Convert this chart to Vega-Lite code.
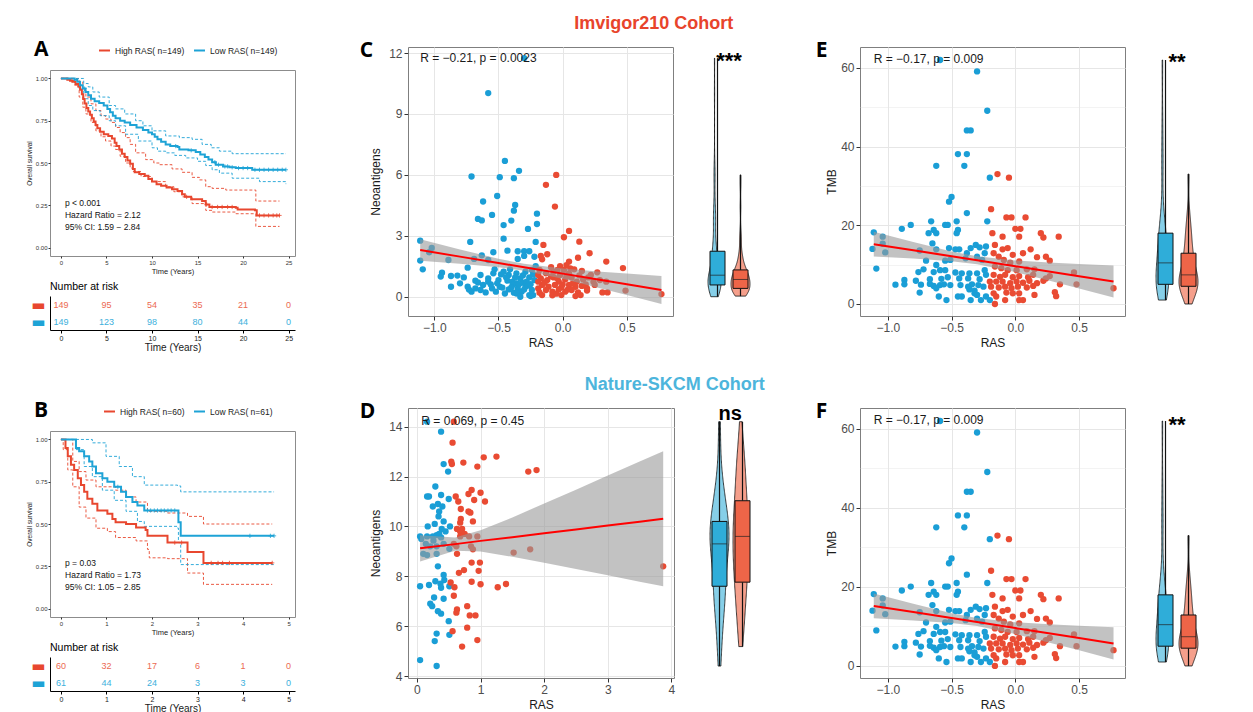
{
"$schema": "https://vega.github.io/schema/vega-lite/v6.json",
"background": "white",
"padding": {"left": 25, "top": 15, "right": 5, "bottom": 0},
"config": {"font": "Liberation Sans", "view": {"stroke": null}, "axis": {"labelColor": "#4D4D4D", "titleColor": "#1A1A1A", "titleFontWeight": "normal", "domain": false, "tickColor": "#333333", "gridColor": "#E6E6E6"}},
"datasets": {
"cPts": [
{"RAS":-0.30,"Neo":11.75,"grp":"Low"},{"RAS":-0.58,"Neo":10.03,"grp":"Low"},{"RAS":-0.45,"Neo":6.69,"grp":"Low"},{"RAS":-0.34,"Neo":6.2,"grp":"Low"},{"RAS":-0.71,"Neo":5.92,"grp":"Low"},{"RAS":-0.49,"Neo":5.89,"grp":"Low"},{"RAS":-0.38,"Neo":5.84,"grp":"Low"},{"RAS":-0.51,"Neo":4.96,"grp":"Low"},{"RAS":-0.62,"Neo":4.69,"grp":"Low"},{"RAS":-0.37,"Neo":4.52,"grp":"Low"},{"RAS":-0.38,"Neo":4.24,"grp":"Low"},{"RAS":-0.55,"Neo":4.03,"grp":"Low"},{"RAS":-0.20,"Neo":4.09,"grp":"Low"},{"RAS":-0.66,"Neo":3.83,"grp":"Low"},{"RAS":-0.63,"Neo":3.76,"grp":"Low"},{"RAS":-0.40,"Neo":3.75,"grp":"Low"},{"RAS":-0.46,"Neo":3.53,"grp":"Low"},{"RAS":-0.20,"Neo":3.58,"grp":"Low"},{"RAS":-0.27,"Neo":3.34,"grp":"Low"},{"RAS":-0.46,"Neo":2.86,"grp":"Low"},{"RAS":-1.11,"Neo":2.76,"grp":"Low"},{"RAS":-0.72,"Neo":2.70,"grp":"Low"},{"RAS":-0.21,"Neo":2.70,"grp":"Low"},{"RAS":-1.02,"Neo":2.40,"grp":"Low"},{"RAS":-1.04,"Neo":2.19,"grp":"Low"},{"RAS":-0.43,"Neo":2.27,"grp":"Low"},{"RAS":-0.35,"Neo":2.24,"grp":"Low"},{"RAS":-0.30,"Neo":2.24,"grp":"Low"},{"RAS":-0.26,"Neo":2.24,"grp":"Low"},{"RAS":-0.54,"Neo":2.19,"grp":"Low"},{"RAS":-0.63,"Neo":2.04,"grp":"Low"},{"RAS":-0.30,"Neo":2.01,"grp":"Low"},{"RAS":-0.22,"Neo":1.97,"grp":"Low"},{"RAS":-0.35,"Neo":1.86,"grp":"Low"},{"RAS":-0.69,"Neo":1.86,"grp":"Low"},{"RAS":-1.11,"Neo":1.78,"grp":"Low"},{"RAS":-0.89,"Neo":1.81,"grp":"Low"},{"RAS":-0.58,"Neo":1.81,"grp":"Low"},{"RAS":-1.09,"Neo":1.35,"grp":"Low"},{"RAS":-0.74,"Neo":1.43,"grp":"Low"},{"RAS":-0.53,"Neo":1.35,"grp":"Low"},{"RAS":-0.94,"Neo":1.18,"grp":"Low"},{"RAS":-0.87,"Neo":1.02,"grp":"Low"},{"RAS":-0.82,"Neo":1.04,"grp":"Low"},{"RAS":-0.77,"Neo":0.95,"grp":"Low"},{"RAS":-0.87,"Neo":0.49,"grp":"Low"},{"RAS":-0.74,"Neo":0.49,"grp":"Low"},{"RAS":-0.68,"Neo":0.79,"grp":"Low"},{"RAS":-0.64,"Neo":1.07,"grp":"Low"},{"RAS":-0.58,"Neo":0.90,"grp":"Low"},{"RAS":-0.54,"Neo":1.15,"grp":"Low"},{"RAS":-0.50,"Neo":0.82,"grp":"Low"},{"RAS":-0.46,"Neo":1.23,"grp":"Low"},{"RAS":-0.42,"Neo":1.07,"grp":"Low"},{"RAS":-0.39,"Neo":0.74,"grp":"Low"},{"RAS":-0.36,"Neo":1.15,"grp":"Low"},{"RAS":-0.33,"Neo":0.90,"grp":"Low"},{"RAS":-0.29,"Neo":1.23,"grp":"Low"},{"RAS":-0.26,"Neo":0.95,"grp":"Low"},{"RAS":-0.24,"Neo":1.32,"grp":"Low"},{"RAS":-0.22,"Neo":0.82,"grp":"Low"},{"RAS":-0.21,"Neo":1.51,"grp":"Low"},{"RAS":-0.71,"Neo":0.25,"grp":"Low"},{"RAS":-0.64,"Neo":0.33,"grp":"Low"},{"RAS":-0.60,"Neo":0.21,"grp":"Low"},{"RAS":-0.55,"Neo":0.41,"grp":"Low"},{"RAS":-0.49,"Neo":0.49,"grp":"Low"},{"RAS":-0.45,"Neo":0.16,"grp":"Low"},{"RAS":-0.42,"Neo":0.36,"grp":"Low"},{"RAS":-0.38,"Neo":0.20,"grp":"Low"},{"RAS":-0.35,"Neo":0.41,"grp":"Low"},{"RAS":-0.32,"Neo":0.25,"grp":"Low"},{"RAS":-0.29,"Neo":0.49,"grp":"Low"},{"RAS":-0.26,"Neo":0.08,"grp":"Low"},{"RAS":-0.24,"Neo":0.33,"grp":"Low"},{"RAS":-0.23,"Neo":0.08,"grp":"Low"},{"RAS":-0.36,"Neo":0.66,"grp":"Low"},{"RAS":-0.31,"Neo":0.69,"grp":"Low"},{"RAS":-0.28,"Neo":0.74,"grp":"Low"},{"RAS":-0.39,"Neo":0.58,"grp":"Low"},{"RAS":-0.51,"Neo":0.66,"grp":"Low"},{"RAS":-0.62,"Neo":0.58,"grp":"Low"},{"RAS":-0.80,"Neo":0.66,"grp":"Low"},{"RAS":-0.68,"Neo":0.41,"grp":"Low"},{"RAS":-0.95,"Neo":0.99,"grp":"Low"},{"RAS":-0.58,"Neo":0.74,"grp":"Low"},{"RAS":-0.43,"Neo":0.79,"grp":"Low"},{"RAS":-0.36,"Neo":0.16,"grp":"Low"},{"RAS":-0.33,"Neo":0.0,"grp":"Low"},{"RAS":-0.25,"Neo":0.03,"grp":"Low"},{"RAS":-0.47,"Neo":0.45,"grp":"Low"},{"RAS":-0.44,"Neo":0.95,"grp":"Low"},{"RAS":-0.41,"Neo":1.35,"grp":"Low"},{"RAS":-0.37,"Neo":0.95,"grp":"Low"},{"RAS":-0.34,"Neo":0.62,"grp":"Low"},{"RAS":-0.31,"Neo":1.05,"grp":"Low"},{"RAS":-0.27,"Neo":0.55,"grp":"Low"},{"RAS":-0.23,"Neo":1.1,"grp":"Low"},{"RAS":-0.48,"Neo":1.1,"grp":"Low"},{"RAS":-0.56,"Neo":0.6,"grp":"Low"},{"RAS":-0.66,"Neo":0.7,"grp":"Low"},{"RAS":-0.73,"Neo":0.35,"grp":"Low"},{"RAS":-0.30,"Neo":0.35,"grp":"Low"},{"RAS":-0.25,"Neo":0.62,"grp":"Low"},{"RAS":-0.40,"Neo":0.45,"grp":"Low"},{"RAS":-0.52,"Neo":0.25,"grp":"Low"},
{"RAS":-0.05,"Neo":6.0,"grp":"High"},{"RAS":-0.13,"Neo":5.51,"grp":"High"},{"RAS":-0.06,"Neo":4.44,"grp":"High"},{"RAS":0.05,"Neo":3.24,"grp":"High"},{"RAS":0.01,"Neo":2.93,"grp":"High"},{"RAS":-0.15,"Neo":2.55,"grp":"High"},{"RAS":0.13,"Neo":2.71,"grp":"High"},{"RAS":-0.17,"Neo":2.01,"grp":"High"},{"RAS":-0.12,"Neo":2.09,"grp":"High"},{"RAS":0.21,"Neo":2.14,"grp":"High"},{"RAS":-0.16,"Neo":1.84,"grp":"High"},{"RAS":0.12,"Neo":1.92,"grp":"High"},{"RAS":0.34,"Neo":1.73,"grp":"High"},{"RAS":0.03,"Neo":1.56,"grp":"High"},{"RAS":-0.02,"Neo":1.51,"grp":"High"},{"RAS":0.47,"Neo":1.41,"grp":"High"},{"RAS":0.09,"Neo":1.35,"grp":"High"},{"RAS":-0.09,"Neo":1.45,"grp":"High"},{"RAS":0.15,"Neo":1.27,"grp":"High"},{"RAS":0.27,"Neo":1.20,"grp":"High"},{"RAS":0.22,"Neo":1.07,"grp":"High"},{"RAS":-0.18,"Neo":1.32,"grp":"High"},{"RAS":-0.13,"Neo":1.15,"grp":"High"},{"RAS":-0.07,"Neo":1.23,"grp":"High"},{"RAS":-0.02,"Neo":1.07,"grp":"High"},{"RAS":0.05,"Neo":1.15,"grp":"High"},{"RAS":-0.17,"Neo":0.90,"grp":"High"},{"RAS":-0.12,"Neo":0.82,"grp":"High"},{"RAS":-0.07,"Neo":0.95,"grp":"High"},{"RAS":-0.03,"Neo":0.74,"grp":"High"},{"RAS":0.02,"Neo":0.85,"grp":"High"},{"RAS":0.07,"Neo":0.95,"grp":"High"},{"RAS":0.11,"Neo":0.74,"grp":"High"},{"RAS":0.16,"Neo":0.85,"grp":"High"},{"RAS":0.24,"Neo":0.74,"grp":"High"},{"RAS":0.29,"Neo":0.82,"grp":"High"},{"RAS":0.34,"Neo":0.74,"grp":"High"},{"RAS":-0.16,"Neo":0.58,"grp":"High"},{"RAS":-0.11,"Neo":0.49,"grp":"High"},{"RAS":-0.06,"Neo":0.58,"grp":"High"},{"RAS":-0.01,"Neo":0.46,"grp":"High"},{"RAS":0.05,"Neo":0.58,"grp":"High"},{"RAS":0.10,"Neo":0.49,"grp":"High"},{"RAS":0.15,"Neo":0.53,"grp":"High"},{"RAS":0.19,"Neo":0.41,"grp":"High"},{"RAS":0.25,"Neo":0.58,"grp":"High"},{"RAS":-0.13,"Neo":0.33,"grp":"High"},{"RAS":-0.08,"Neo":0.25,"grp":"High"},{"RAS":-0.03,"Neo":0.36,"grp":"High"},{"RAS":0.02,"Neo":0.25,"grp":"High"},{"RAS":0.07,"Neo":0.33,"grp":"High"},{"RAS":0.12,"Neo":0.21,"grp":"High"},{"RAS":0.19,"Neo":0.30,"grp":"High"},{"RAS":0.31,"Neo":0.21,"grp":"High"},{"RAS":0.35,"Neo":0.21,"grp":"High"},{"RAS":0.49,"Neo":0.30,"grp":"High"},{"RAS":0.77,"Neo":0.13,"grp":"High"},{"RAS":-0.16,"Neo":0.08,"grp":"High"},{"RAS":-0.08,"Neo":0.07,"grp":"High"},{"RAS":-0.01,"Neo":0.08,"grp":"High"},{"RAS":0.10,"Neo":0.03,"grp":"High"},{"RAS":0.14,"Neo":0.08,"grp":"High"},{"RAS":-0.19,"Neo":0.41,"grp":"High"},{"RAS":-0.19,"Neo":0.74,"grp":"High"},{"RAS":-0.19,"Neo":1.07,"grp":"High"},{"RAS":-0.04,"Neo":1.32,"grp":"High"},{"RAS":0.01,"Neo":1.32,"grp":"High"},{"RAS":0.06,"Neo":1.40,"grp":"High"},{"RAS":0.05,"Neo":1.73,"grp":"High"},{"RAS":-0.14,"Neo":0.7,"grp":"High"},{"RAS":-0.09,"Neo":1.0,"grp":"High"},{"RAS":-0.04,"Neo":0.9,"grp":"High"},{"RAS":0.0,"Neo":0.6,"grp":"High"},{"RAS":0.04,"Neo":0.35,"grp":"High"},{"RAS":0.08,"Neo":0.65,"grp":"High"},{"RAS":0.13,"Neo":1.05,"grp":"High"},{"RAS":0.18,"Neo":0.6,"grp":"High"},{"RAS":-0.18,"Neo":0.2,"grp":"High"},{"RAS":-0.05,"Neo":0.15,"grp":"High"},{"RAS":0.03,"Neo":1.0,"grp":"High"},{"RAS":0.2,"Neo":0.95,"grp":"High"}
],
"cFit": [
{"RAS":-1.11,"fit":2.30,"lo":1.77,"hi":2.83},{"RAS":-0.8,"fit":1.975,"lo":1.62,"hi":2.33},{"RAS":-0.5,"fit":1.66,"lo":1.45,"hi":1.87},{"RAS":-0.3,"fit":1.45,"lo":1.28,"hi":1.62},{"RAS":0,"fit":1.137,"lo":0.885,"hi":1.39},{"RAS":0.3,"fit":0.823,"lo":0.41,"hi":1.23},{"RAS":0.5,"fit":0.613,"lo":0.09,"hi":1.14},{"RAS":0.77,"fit":0.33,"lo":-0.355,"hi":1.015}
],
"ePts": [
{"RAS":-0.59,"TMB":62.0,"grp":"Low"},{"RAS":-0.30,"TMB":59.1,"grp":"Low"},{"RAS":-0.22,"TMB":49.1,"grp":"Low"},{"RAS":-0.38,"TMB":44.1,"grp":"Low"},{"RAS":-0.35,"TMB":44.1,"grp":"Low"},{"RAS":-0.45,"TMB":38.1,"grp":"Low"},{"RAS":-0.38,"TMB":38.1,"grp":"Low"},{"RAS":-0.62,"TMB":35.1,"grp":"Low"},{"RAS":-0.40,"TMB":35.1,"grp":"Low"},{"RAS":-0.20,"TMB":32.1,"grp":"Low"},{"RAS":-0.50,"TMB":27.2,"grp":"Low"},{"RAS":-0.52,"TMB":26.0,"grp":"Low"},{"RAS":-0.38,"TMB":23.1,"grp":"Low"},{"RAS":-0.66,"TMB":21.0,"grp":"Low"},{"RAS":-0.46,"TMB":21.0,"grp":"Low"},{"RAS":-0.22,"TMB":21.0,"grp":"Low"},{"RAS":-0.82,"TMB":20.1,"grp":"Low"},{"RAS":-0.55,"TMB":20.1,"grp":"Low"},{"RAS":-0.53,"TMB":20.1,"grp":"Low"},{"RAS":-0.89,"TMB":19.1,"grp":"Low"},{"RAS":-0.64,"TMB":18.8,"grp":"Low"},{"RAS":-0.45,"TMB":18.8,"grp":"Low"},{"RAS":-0.68,"TMB":18.0,"grp":"Low"},{"RAS":-0.62,"TMB":18.0,"grp":"Low"},{"RAS":-0.46,"TMB":18.0,"grp":"Low"},{"RAS":-1.11,"TMB":18.2,"grp":"Low"},{"RAS":-1.04,"TMB":17.1,"grp":"Low"},{"RAS":-0.65,"TMB":15.4,"grp":"Low"},{"RAS":-0.31,"TMB":15.0,"grp":"Low"},{"RAS":-0.52,"TMB":14.2,"grp":"Low"},{"RAS":-0.75,"TMB":13.6,"grp":"Low"},{"RAS":-0.35,"TMB":14.2,"grp":"Low"},{"RAS":-0.28,"TMB":14.4,"grp":"Low"},{"RAS":-1.12,"TMB":14.0,"grp":"Low"},{"RAS":-1.04,"TMB":15.3,"grp":"Low"},{"RAS":-1.02,"TMB":13.1,"grp":"Low"},{"RAS":-0.62,"TMB":13.9,"grp":"Low"},{"RAS":-0.47,"TMB":13.9,"grp":"Low"},{"RAS":-0.44,"TMB":13.9,"grp":"Low"},{"RAS":-0.38,"TMB":12.9,"grp":"Low"},{"RAS":-0.23,"TMB":14.6,"grp":"Low"},{"RAS":-0.24,"TMB":12.9,"grp":"Low"},{"RAS":-0.70,"TMB":11.0,"grp":"Low"},{"RAS":-0.55,"TMB":11.0,"grp":"Low"},{"RAS":-0.51,"TMB":11.2,"grp":"Low"},{"RAS":-0.39,"TMB":11.6,"grp":"Low"},{"RAS":-0.30,"TMB":12.0,"grp":"Low"},{"RAS":-0.26,"TMB":11.2,"grp":"Low"},{"RAS":-1.09,"TMB":9.0,"grp":"Low"},{"RAS":-0.62,"TMB":9.9,"grp":"Low"},{"RAS":-0.59,"TMB":8.6,"grp":"Low"},{"RAS":-0.55,"TMB":8.6,"grp":"Low"},{"RAS":-0.72,"TMB":8.8,"grp":"Low"},{"RAS":-0.76,"TMB":8.1,"grp":"Low"},{"RAS":-0.64,"TMB":8.1,"grp":"Low"},{"RAS":-0.47,"TMB":8.0,"grp":"Low"},{"RAS":-0.42,"TMB":7.8,"grp":"Low"},{"RAS":-0.36,"TMB":7.8,"grp":"Low"},{"RAS":-0.30,"TMB":7.8,"grp":"Low"},{"RAS":-0.24,"TMB":8.6,"grp":"Low"},{"RAS":-0.23,"TMB":7.4,"grp":"Low"},{"RAS":-0.78,"TMB":5.9,"grp":"Low"},{"RAS":-0.87,"TMB":6.1,"grp":"Low"},{"RAS":-0.67,"TMB":6.3,"grp":"Low"},{"RAS":-0.58,"TMB":6.4,"grp":"Low"},{"RAS":-0.53,"TMB":6.8,"grp":"Low"},{"RAS":-0.44,"TMB":6.5,"grp":"Low"},{"RAS":-0.37,"TMB":6.5,"grp":"Low"},{"RAS":-0.28,"TMB":6.3,"grp":"Low"},{"RAS":-0.94,"TMB":4.9,"grp":"Low"},{"RAS":-0.87,"TMB":5.0,"grp":"Low"},{"RAS":-0.74,"TMB":4.9,"grp":"Low"},{"RAS":-0.67,"TMB":5.1,"grp":"Low"},{"RAS":-0.64,"TMB":4.6,"grp":"Low"},{"RAS":-0.59,"TMB":4.8,"grp":"Low"},{"RAS":-0.56,"TMB":5.0,"grp":"Low"},{"RAS":-0.51,"TMB":4.8,"grp":"Low"},{"RAS":-0.43,"TMB":4.8,"grp":"Low"},{"RAS":-0.37,"TMB":4.4,"grp":"Low"},{"RAS":-0.34,"TMB":5.0,"grp":"Low"},{"RAS":-0.29,"TMB":4.8,"grp":"Low"},{"RAS":-0.25,"TMB":4.4,"grp":"Low"},{"RAS":-0.62,"TMB":4.0,"grp":"Low"},{"RAS":-0.36,"TMB":3.7,"grp":"Low"},{"RAS":-0.32,"TMB":3.4,"grp":"Low"},{"RAS":-0.75,"TMB":2.9,"grp":"Low"},{"RAS":-0.60,"TMB":1.9,"grp":"Low"},{"RAS":-0.45,"TMB":1.9,"grp":"Low"},{"RAS":-0.42,"TMB":1.9,"grp":"Low"},{"RAS":-0.30,"TMB":2.3,"grp":"Low"},{"RAS":-0.23,"TMB":1.9,"grp":"Low"},{"RAS":-0.54,"TMB":1.0,"grp":"Low"},{"RAS":-0.35,"TMB":1.0,"grp":"Low"},{"RAS":-0.27,"TMB":1.0,"grp":"Low"},{"RAS":-0.20,"TMB":1.0,"grp":"Low"},{"RAS":-0.32,"TMB":2.7,"grp":"Low"},
{"RAS":-0.14,"TMB":33.0,"grp":"High"},{"RAS":-0.05,"TMB":32.1,"grp":"High"},{"RAS":-0.19,"TMB":24.1,"grp":"High"},{"RAS":-0.07,"TMB":22.0,"grp":"High"},{"RAS":-0.03,"TMB":22.0,"grp":"High"},{"RAS":0.08,"TMB":22.0,"grp":"High"},{"RAS":0.00,"TMB":19.1,"grp":"High"},{"RAS":0.04,"TMB":19.1,"grp":"High"},{"RAS":-0.18,"TMB":18.0,"grp":"High"},{"RAS":0.20,"TMB":18.0,"grp":"High"},{"RAS":0.22,"TMB":16.9,"grp":"High"},{"RAS":-0.10,"TMB":17.1,"grp":"High"},{"RAS":0.03,"TMB":17.1,"grp":"High"},{"RAS":0.34,"TMB":17.1,"grp":"High"},{"RAS":-0.16,"TMB":15.0,"grp":"High"},{"RAS":-0.10,"TMB":13.9,"grp":"High"},{"RAS":-0.06,"TMB":14.2,"grp":"High"},{"RAS":0.12,"TMB":13.9,"grp":"High"},{"RAS":0.06,"TMB":12.9,"grp":"High"},{"RAS":-0.17,"TMB":12.9,"grp":"High"},{"RAS":-0.02,"TMB":12.5,"grp":"High"},{"RAS":0.24,"TMB":12.0,"grp":"High"},{"RAS":0.27,"TMB":11.0,"grp":"High"},{"RAS":-0.13,"TMB":12.0,"grp":"High"},{"RAS":-0.09,"TMB":11.2,"grp":"High"},{"RAS":-0.04,"TMB":10.5,"grp":"High"},{"RAS":0.03,"TMB":10.8,"grp":"High"},{"RAS":0.17,"TMB":11.9,"grp":"High"},{"RAS":-0.16,"TMB":9.5,"grp":"High"},{"RAS":-0.11,"TMB":9.1,"grp":"High"},{"RAS":-0.06,"TMB":8.6,"grp":"High"},{"RAS":0.01,"TMB":8.6,"grp":"High"},{"RAS":0.09,"TMB":8.8,"grp":"High"},{"RAS":0.15,"TMB":8.8,"grp":"High"},{"RAS":0.46,"TMB":8.0,"grp":"High"},{"RAS":-0.17,"TMB":7.4,"grp":"High"},{"RAS":-0.12,"TMB":6.9,"grp":"High"},{"RAS":-0.08,"TMB":7.4,"grp":"High"},{"RAS":-0.02,"TMB":6.8,"grp":"High"},{"RAS":0.03,"TMB":7.1,"grp":"High"},{"RAS":0.10,"TMB":6.8,"grp":"High"},{"RAS":0.14,"TMB":7.4,"grp":"High"},{"RAS":0.24,"TMB":6.5,"grp":"High"},{"RAS":0.27,"TMB":7.1,"grp":"High"},{"RAS":0.22,"TMB":5.9,"grp":"High"},{"RAS":-0.15,"TMB":5.7,"grp":"High"},{"RAS":-0.10,"TMB":5.7,"grp":"High"},{"RAS":-0.04,"TMB":5.3,"grp":"High"},{"RAS":0.01,"TMB":5.7,"grp":"High"},{"RAS":0.06,"TMB":5.4,"grp":"High"},{"RAS":0.11,"TMB":5.9,"grp":"High"},{"RAS":0.17,"TMB":5.3,"grp":"High"},{"RAS":-0.19,"TMB":4.4,"grp":"High"},{"RAS":-0.13,"TMB":4.2,"grp":"High"},{"RAS":-0.08,"TMB":4.4,"grp":"High"},{"RAS":-0.03,"TMB":4.0,"grp":"High"},{"RAS":0.02,"TMB":4.4,"grp":"High"},{"RAS":0.09,"TMB":4.2,"grp":"High"},{"RAS":0.14,"TMB":4.6,"grp":"High"},{"RAS":0.35,"TMB":5.0,"grp":"High"},{"RAS":0.48,"TMB":5.0,"grp":"High"},{"RAS":0.77,"TMB":4.0,"grp":"High"},{"RAS":-0.17,"TMB":2.7,"grp":"High"},{"RAS":-0.07,"TMB":2.9,"grp":"High"},{"RAS":0.03,"TMB":2.7,"grp":"High"},{"RAS":0.15,"TMB":2.3,"grp":"High"},{"RAS":0.31,"TMB":3.0,"grp":"High"},{"RAS":0.32,"TMB":2.0,"grp":"High"},{"RAS":-0.15,"TMB":1.9,"grp":"High"},{"RAS":-0.08,"TMB":1.0,"grp":"High"},{"RAS":0.03,"TMB":1.0,"grp":"High"},{"RAS":0.06,"TMB":1.0,"grp":"High"},{"RAS":-0.16,"TMB":0.0,"grp":"High"},{"RAS":-0.02,"TMB":2.7,"grp":"High"},{"RAS":-0.20,"TMB":5.7,"grp":"High"}
],
"eFit": [
{"RAS":-1.11,"fit":15.2,"lo":12.05,"hi":18.35},{"RAS":-0.8,"fit":13.63,"lo":11.53,"hi":15.73},{"RAS":-0.5,"fit":12.12,"lo":10.88,"hi":13.36},{"RAS":-0.3,"fit":11.11,"lo":10.11,"hi":12.11},{"RAS":0,"fit":9.59,"lo":8.10,"hi":11.08},{"RAS":0.3,"fit":8.08,"lo":5.65,"hi":10.51},{"RAS":0.5,"fit":7.07,"lo":3.96,"hi":10.18},{"RAS":0.77,"fit":5.7,"lo":1.63,"hi":9.77}
],
"dPts": [
{"RAS":0.16,"Neo":14.2,"grp":"Low"},{"RAS":0.38,"Neo":13.8,"grp":"Low"},{"RAS":0.42,"Neo":12.5,"grp":"Low"},{"RAS":0.49,"Neo":12.2,"grp":"Low"},{"RAS":0.29,"Neo":11.6,"grp":"Low"},{"RAS":0.16,"Neo":11.2,"grp":"Low"},{"RAS":0.19,"Neo":11.2,"grp":"Low"},{"RAS":0.38,"Neo":11.26,"grp":"Low"},{"RAS":0.50,"Neo":11.1,"grp":"Low"},{"RAS":0.25,"Neo":10.8,"grp":"Low"},{"RAS":0.33,"Neo":10.9,"grp":"Low"},{"RAS":0.40,"Neo":10.8,"grp":"Low"},{"RAS":0.35,"Neo":10.6,"grp":"Low"},{"RAS":0.34,"Neo":10.4,"grp":"Low"},{"RAS":0.17,"Neo":10.0,"grp":"Low"},{"RAS":0.28,"Neo":10.1,"grp":"Low"},{"RAS":0.42,"Neo":10.2,"grp":"Low"},{"RAS":0.39,"Neo":9.9,"grp":"Low"},{"RAS":0.52,"Neo":10.0,"grp":"Low"},{"RAS":0.35,"Neo":9.7,"grp":"Low"},{"RAS":0.05,"Neo":9.6,"grp":"Low"},{"RAS":0.07,"Neo":9.5,"grp":"Low"},{"RAS":0.16,"Neo":9.6,"grp":"Low"},{"RAS":0.25,"Neo":9.6,"grp":"Low"},{"RAS":0.31,"Neo":9.65,"grp":"Low"},{"RAS":0.38,"Neo":9.56,"grp":"Low"},{"RAS":0.26,"Neo":9.43,"grp":"Low"},{"RAS":0.10,"Neo":8.9,"grp":"Low"},{"RAS":0.14,"Neo":9.3,"grp":"Low"},{"RAS":0.42,"Neo":9.3,"grp":"Low"},{"RAS":0.31,"Neo":9.2,"grp":"Low"},{"RAS":0.51,"Neo":9.1,"grp":"Low"},{"RAS":0.31,"Neo":8.9,"grp":"Low"},{"RAS":0.33,"Neo":8.4,"grp":"Low"},{"RAS":0.42,"Neo":8.05,"grp":"Low"},{"RAS":0.43,"Neo":7.85,"grp":"Low"},{"RAS":0.29,"Neo":7.8,"grp":"Low"},{"RAS":0.37,"Neo":7.7,"grp":"Low"},{"RAS":0.38,"Neo":7.54,"grp":"Low"},{"RAS":0.05,"Neo":7.6,"grp":"Low"},{"RAS":0.19,"Neo":7.65,"grp":"Low"},{"RAS":0.51,"Neo":7.6,"grp":"Low"},{"RAS":0.42,"Neo":7.1,"grp":"Low"},{"RAS":0.27,"Neo":7.15,"grp":"Low"},{"RAS":0.21,"Neo":6.9,"grp":"Low"},{"RAS":0.24,"Neo":6.8,"grp":"Low"},{"RAS":0.33,"Neo":6.6,"grp":"Low"},{"RAS":0.38,"Neo":6.5,"grp":"Low"},{"RAS":0.50,"Neo":6.2,"grp":"Low"},{"RAS":0.31,"Neo":5.7,"grp":"Low"},{"RAS":0.28,"Neo":5.4,"grp":"Low"},{"RAS":0.51,"Neo":5.65,"grp":"Low"},{"RAS":0.05,"Neo":4.64,"grp":"Low"},{"RAS":0.31,"Neo":4.4,"grp":"Low"},{"RAS":0.21,"Neo":9.2,"grp":"Low"},{"RAS":0.16,"Neo":8.85,"grp":"Low"},{"RAS":0.45,"Neo":9.8,"grp":"Low"},
{"RAS":0.58,"Neo":14.2,"grp":"High"},{"RAS":0.56,"Neo":13.36,"grp":"High"},{"RAS":0.54,"Neo":12.6,"grp":"High"},{"RAS":0.55,"Neo":12.5,"grp":"High"},{"RAS":0.73,"Neo":12.56,"grp":"High"},{"RAS":1.05,"Neo":12.77,"grp":"High"},{"RAS":1.25,"Neo":12.8,"grp":"High"},{"RAS":0.95,"Neo":12.4,"grp":"High"},{"RAS":1.75,"Neo":12.2,"grp":"High"},{"RAS":1.88,"Neo":12.26,"grp":"High"},{"RAS":0.61,"Neo":11.2,"grp":"High"},{"RAS":0.65,"Neo":11.0,"grp":"High"},{"RAS":0.81,"Neo":11.3,"grp":"High"},{"RAS":0.86,"Neo":11.46,"grp":"High"},{"RAS":1.00,"Neo":11.35,"grp":"High"},{"RAS":0.90,"Neo":11.06,"grp":"High"},{"RAS":1.07,"Neo":11.0,"grp":"High"},{"RAS":0.69,"Neo":10.7,"grp":"High"},{"RAS":0.81,"Neo":10.6,"grp":"High"},{"RAS":0.84,"Neo":10.55,"grp":"High"},{"RAS":0.69,"Neo":10.3,"grp":"High"},{"RAS":0.68,"Neo":10.15,"grp":"High"},{"RAS":0.88,"Neo":10.2,"grp":"High"},{"RAS":0.63,"Neo":9.9,"grp":"High"},{"RAS":0.71,"Neo":9.9,"grp":"High"},{"RAS":0.68,"Neo":9.8,"grp":"High"},{"RAS":0.75,"Neo":9.7,"grp":"High"},{"RAS":0.68,"Neo":9.6,"grp":"High"},{"RAS":0.82,"Neo":9.6,"grp":"High"},{"RAS":0.95,"Neo":9.6,"grp":"High"},{"RAS":0.58,"Neo":9.3,"grp":"High"},{"RAS":0.62,"Neo":9.2,"grp":"High"},{"RAS":0.63,"Neo":8.9,"grp":"High"},{"RAS":0.85,"Neo":9.2,"grp":"High"},{"RAS":0.88,"Neo":9.08,"grp":"High"},{"RAS":1.52,"Neo":8.95,"grp":"High"},{"RAS":1.78,"Neo":9.08,"grp":"High"},{"RAS":3.87,"Neo":8.4,"grp":"High"},{"RAS":0.86,"Neo":8.55,"grp":"High"},{"RAS":0.99,"Neo":8.55,"grp":"High"},{"RAS":0.74,"Neo":8.25,"grp":"High"},{"RAS":0.66,"Neo":8.14,"grp":"High"},{"RAS":0.97,"Neo":8.22,"grp":"High"},{"RAS":0.53,"Neo":7.75,"grp":"High"},{"RAS":0.86,"Neo":7.78,"grp":"High"},{"RAS":1.00,"Neo":7.68,"grp":"High"},{"RAS":1.27,"Neo":7.56,"grp":"High"},{"RAS":1.40,"Neo":7.69,"grp":"High"},{"RAS":0.59,"Neo":7.56,"grp":"High"},{"RAS":0.58,"Neo":7.22,"grp":"High"},{"RAS":0.63,"Neo":6.67,"grp":"High"},{"RAS":0.62,"Neo":6.54,"grp":"High"},{"RAS":0.79,"Neo":6.8,"grp":"High"},{"RAS":0.83,"Neo":6.43,"grp":"High"},{"RAS":0.92,"Neo":6.43,"grp":"High"},{"RAS":0.79,"Neo":5.94,"grp":"High"},{"RAS":0.56,"Neo":5.8,"grp":"High"},{"RAS":0.95,"Neo":5.44,"grp":"High"},{"RAS":0.71,"Neo":5.18,"grp":"High"}
],
"dFit": [
{"RAS":0.05,"fit":9.12,"lo":8.59,"hi":9.65},{"RAS":0.6,"fit":9.29,"lo":9.02,"hi":9.56},{"RAS":1.0,"fit":9.42,"lo":8.99,"hi":9.85},{"RAS":1.5,"fit":9.57,"lo":8.78,"hi":10.36},{"RAS":2.0,"fit":9.73,"lo":8.54,"hi":10.92},{"RAS":2.5,"fit":9.88,"lo":8.29,"hi":11.47},{"RAS":3.0,"fit":10.04,"lo":8.04,"hi":12.04},{"RAS":3.5,"fit":10.19,"lo":7.78,"hi":12.6},{"RAS":3.87,"fit":10.31,"lo":7.60,"hi":13.02}
],
"kmA": [
{"t":0,"s":1,"g":"High","k":"est"},{"t":0.7,"s":0.993,"g":"High","k":"est"},{"t":1.0,"s":0.987,"g":"High","k":"est"},{"t":1.3,"s":0.98,"g":"High","k":"est"},{"t":1.6,"s":0.967,"g":"High","k":"est"},{"t":1.9,"s":0.953,"g":"High","k":"est"},{"t":2.1,"s":0.933,"g":"High","k":"est"},{"t":2.3,"s":0.906,"g":"High","k":"est"},{"t":2.45,"s":0.879,"g":"High","k":"est"},{"t":2.6,"s":0.852,"g":"High","k":"est"},{"t":2.8,"s":0.825,"g":"High","k":"est"},{"t":3.0,"s":0.805,"g":"High","k":"est"},{"t":3.2,"s":0.785,"g":"High","k":"est"},{"t":3.4,"s":0.765,"g":"High","k":"est"},{"t":3.6,"s":0.745,"g":"High","k":"est"},{"t":3.8,"s":0.725,"g":"High","k":"est"},{"t":4.0,"s":0.705,"g":"High","k":"est"},{"t":4.3,"s":0.685,"g":"High","k":"est"},{"t":4.7,"s":0.67,"g":"High","k":"est"},{"t":5.2,"s":0.66,"g":"High","k":"est"},{"t":5.6,"s":0.645,"g":"High","k":"est"},{"t":5.9,"s":0.62,"g":"High","k":"est"},{"t":6.1,"s":0.60,"g":"High","k":"est"},{"t":6.4,"s":0.58,"g":"High","k":"est"},{"t":6.7,"s":0.555,"g":"High","k":"est"},{"t":7.0,"s":0.535,"g":"High","k":"est"},{"t":7.3,"s":0.515,"g":"High","k":"est"},{"t":7.6,"s":0.495,"g":"High","k":"est"},{"t":7.9,"s":0.465,"g":"High","k":"est"},{"t":8.1,"s":0.445,"g":"High","k":"est"},{"t":8.6,"s":0.435,"g":"High","k":"est"},{"t":9.2,"s":0.425,"g":"High","k":"est"},{"t":9.6,"s":0.405,"g":"High","k":"est"},{"t":10.0,"s":0.39,"g":"High","k":"est"},{"t":10.5,"s":0.375,"g":"High","k":"est"},{"t":11.0,"s":0.365,"g":"High","k":"est"},{"t":11.6,"s":0.355,"g":"High","k":"est"},{"t":12.2,"s":0.345,"g":"High","k":"est"},{"t":12.8,"s":0.335,"g":"High","k":"est"},{"t":13.3,"s":0.315,"g":"High","k":"est"},{"t":13.6,"s":0.30,"g":"High","k":"est"},{"t":14.3,"s":0.285,"g":"High","k":"est"},{"t":15.5,"s":0.275,"g":"High","k":"est"},{"t":15.9,"s":0.255,"g":"High","k":"est"},{"t":16.3,"s":0.24,"g":"High","k":"est"},{"t":19.2,"s":0.235,"g":"High","k":"est"},{"t":19.4,"s":0.225,"g":"High","k":"est"},{"t":21.3,"s":0.22,"g":"High","k":"est"},{"t":21.5,"s":0.19,"g":"High","k":"est"},{"t":24.0,"s":0.19,"g":"High","k":"est"},
{"t":0,"s":1,"g":"High","k":"up"},{"t":1.5,"s":1.0,"g":"High","k":"up"},{"t":2.0,"s":0.98,"g":"High","k":"up"},{"t":2.4,"s":0.93,"g":"High","k":"up"},{"t":2.74,"s":0.89,"g":"High","k":"up"},{"t":3.3,"s":0.85,"g":"High","k":"up"},{"t":3.84,"s":0.81,"g":"High","k":"up"},{"t":4.4,"s":0.78,"g":"High","k":"up"},{"t":4.9,"s":0.76,"g":"High","k":"up"},{"t":5.5,"s":0.74,"g":"High","k":"up"},{"t":6.0,"s":0.71,"g":"High","k":"up"},{"t":6.5,"s":0.68,"g":"High","k":"up"},{"t":7.1,"s":0.65,"g":"High","k":"up"},{"t":7.6,"s":0.61,"g":"High","k":"up"},{"t":8.2,"s":0.56,"g":"High","k":"up"},{"t":9.3,"s":0.52,"g":"High","k":"up"},{"t":10.2,"s":0.50,"g":"High","k":"up"},{"t":10.8,"s":0.49,"g":"High","k":"up"},{"t":12.2,"s":0.465,"g":"High","k":"up"},{"t":13.3,"s":0.445,"g":"High","k":"up"},{"t":14.4,"s":0.415,"g":"High","k":"up"},{"t":15.2,"s":0.40,"g":"High","k":"up"},{"t":15.9,"s":0.36,"g":"High","k":"up"},{"t":16.6,"s":0.35,"g":"High","k":"up"},{"t":18.1,"s":0.34,"g":"High","k":"up"},{"t":21.4,"s":0.275,"g":"High","k":"up"},{"t":24.0,"s":0.275,"g":"High","k":"up"},
{"t":0,"s":1,"g":"High","k":"lo"},{"t":1.5,"s":0.96,"g":"High","k":"lo"},{"t":2.0,"s":0.89,"g":"High","k":"lo"},{"t":2.4,"s":0.83,"g":"High","k":"lo"},{"t":2.74,"s":0.79,"g":"High","k":"lo"},{"t":3.3,"s":0.74,"g":"High","k":"lo"},{"t":3.84,"s":0.69,"g":"High","k":"lo"},{"t":4.4,"s":0.655,"g":"High","k":"lo"},{"t":4.9,"s":0.63,"g":"High","k":"lo"},{"t":5.5,"s":0.60,"g":"High","k":"lo"},{"t":6.0,"s":0.58,"g":"High","k":"lo"},{"t":6.5,"s":0.54,"g":"High","k":"lo"},{"t":7.1,"s":0.50,"g":"High","k":"lo"},{"t":7.6,"s":0.47,"g":"High","k":"lo"},{"t":7.9,"s":0.45,"g":"High","k":"lo"},{"t":8.8,"s":0.42,"g":"High","k":"lo"},{"t":10.0,"s":0.39,"g":"High","k":"lo"},{"t":11.5,"s":0.36,"g":"High","k":"lo"},{"t":12.4,"s":0.33,"g":"High","k":"lo"},{"t":13.3,"s":0.30,"g":"High","k":"lo"},{"t":14.4,"s":0.26,"g":"High","k":"lo"},{"t":15.9,"s":0.22,"g":"High","k":"lo"},{"t":16.6,"s":0.21,"g":"High","k":"lo"},{"t":19.2,"s":0.20,"g":"High","k":"lo"},{"t":21.4,"s":0.125,"g":"High","k":"lo"},{"t":24.0,"s":0.125,"g":"High","k":"lo"},
{"t":0,"s":1,"g":"Low","k":"est"},{"t":1.5,"s":0.993,"g":"Low","k":"est"},{"t":1.8,"s":0.98,"g":"Low","k":"est"},{"t":2.1,"s":0.96,"g":"Low","k":"est"},{"t":2.4,"s":0.94,"g":"Low","k":"est"},{"t":2.7,"s":0.92,"g":"Low","k":"est"},{"t":3.0,"s":0.90,"g":"Low","k":"est"},{"t":3.3,"s":0.88,"g":"Low","k":"est"},{"t":3.7,"s":0.865,"g":"Low","k":"est"},{"t":4.2,"s":0.855,"g":"Low","k":"est"},{"t":4.7,"s":0.84,"g":"Low","k":"est"},{"t":5.1,"s":0.82,"g":"Low","k":"est"},{"t":5.4,"s":0.80,"g":"Low","k":"est"},{"t":5.7,"s":0.78,"g":"Low","k":"est"},{"t":6.0,"s":0.765,"g":"Low","k":"est"},{"t":6.5,"s":0.75,"g":"Low","k":"est"},{"t":7.0,"s":0.74,"g":"Low","k":"est"},{"t":7.6,"s":0.725,"g":"Low","k":"est"},{"t":8.3,"s":0.71,"g":"Low","k":"est"},{"t":9.0,"s":0.695,"g":"Low","k":"est"},{"t":9.6,"s":0.68,"g":"Low","k":"est"},{"t":10.0,"s":0.67,"g":"Low","k":"est"},{"t":10.3,"s":0.655,"g":"Low","k":"est"},{"t":10.6,"s":0.64,"g":"Low","k":"est"},{"t":11.0,"s":0.625,"g":"Low","k":"est"},{"t":11.5,"s":0.61,"g":"Low","k":"est"},{"t":12.0,"s":0.60,"g":"Low","k":"est"},{"t":12.8,"s":0.595,"g":"Low","k":"est"},{"t":13.0,"s":0.58,"g":"Low","k":"est"},{"t":14.0,"s":0.575,"g":"Low","k":"est"},{"t":14.8,"s":0.565,"g":"Low","k":"est"},{"t":15.3,"s":0.55,"g":"Low","k":"est"},{"t":15.8,"s":0.535,"g":"Low","k":"est"},{"t":16.2,"s":0.52,"g":"Low","k":"est"},{"t":16.6,"s":0.505,"g":"Low","k":"est"},{"t":17.0,"s":0.49,"g":"Low","k":"est"},{"t":17.8,"s":0.48,"g":"Low","k":"est"},{"t":18.5,"s":0.475,"g":"Low","k":"est"},{"t":19.2,"s":0.47,"g":"Low","k":"est"},{"t":21.0,"s":0.46,"g":"Low","k":"est"},{"t":24.7,"s":0.46,"g":"Low","k":"est"},
{"t":0,"s":1,"g":"Low","k":"up"},{"t":2.0,"s":1.0,"g":"Low","k":"up"},{"t":2.5,"s":0.97,"g":"Low","k":"up"},{"t":3.0,"s":0.95,"g":"Low","k":"up"},{"t":3.5,"s":0.92,"g":"Low","k":"up"},{"t":4.2,"s":0.89,"g":"Low","k":"up"},{"t":5.3,"s":0.84,"g":"Low","k":"up"},{"t":6.0,"s":0.82,"g":"Low","k":"up"},{"t":7.0,"s":0.79,"g":"Low","k":"up"},{"t":8.2,"s":0.75,"g":"Low","k":"up"},{"t":9.0,"s":0.72,"g":"Low","k":"up"},{"t":10.0,"s":0.69,"g":"Low","k":"up"},{"t":11.5,"s":0.66,"g":"Low","k":"up"},{"t":13.0,"s":0.65,"g":"Low","k":"up"},{"t":14.4,"s":0.64,"g":"Low","k":"up"},{"t":15.5,"s":0.61,"g":"Low","k":"up"},{"t":16.5,"s":0.59,"g":"Low","k":"up"},{"t":17.4,"s":0.57,"g":"Low","k":"up"},{"t":18.8,"s":0.555,"g":"Low","k":"up"},{"t":24.7,"s":0.555,"g":"Low","k":"up"},
{"t":0,"s":1,"g":"Low","k":"lo"},{"t":1.5,"s":0.97,"g":"Low","k":"lo"},{"t":2.0,"s":0.937,"g":"Low","k":"lo"},{"t":2.5,"s":0.88,"g":"Low","k":"lo"},{"t":3.0,"s":0.84,"g":"Low","k":"lo"},{"t":3.5,"s":0.81,"g":"Low","k":"lo"},{"t":4.3,"s":0.78,"g":"Low","k":"lo"},{"t":5.3,"s":0.75,"g":"Low","k":"lo"},{"t":6.0,"s":0.72,"g":"Low","k":"lo"},{"t":7.1,"s":0.67,"g":"Low","k":"lo"},{"t":8.5,"s":0.63,"g":"Low","k":"lo"},{"t":10.0,"s":0.59,"g":"Low","k":"lo"},{"t":10.6,"s":0.57,"g":"Low","k":"lo"},{"t":11.5,"s":0.56,"g":"Low","k":"lo"},{"t":12.5,"s":0.545,"g":"Low","k":"lo"},{"t":13.7,"s":0.53,"g":"Low","k":"lo"},{"t":15.0,"s":0.51,"g":"Low","k":"lo"},{"t":15.9,"s":0.485,"g":"Low","k":"lo"},{"t":16.6,"s":0.46,"g":"Low","k":"lo"},{"t":17.4,"s":0.44,"g":"Low","k":"lo"},{"t":18.8,"s":0.41,"g":"Low","k":"lo"},{"t":21.8,"s":0.39,"g":"Low","k":"lo"},{"t":24.7,"s":0.375,"g":"Low","k":"lo"}
],
"cenA": [
{"t":1.2,"s":0.987,"g":"High"},{"t":13.8,"s":0.30,"g":"High"},{"t":16.0,"s":0.255,"g":"High"},{"t":16.6,"s":0.24,"g":"High"},{"t":17.2,"s":0.24,"g":"High"},{"t":17.7,"s":0.24,"g":"High"},{"t":18.3,"s":0.24,"g":"High"},{"t":18.8,"s":0.24,"g":"High"},{"t":21.8,"s":0.19,"g":"High"},{"t":22.3,"s":0.19,"g":"High"},{"t":22.8,"s":0.19,"g":"High"},{"t":23.3,"s":0.19,"g":"High"},{"t":23.7,"s":0.19,"g":"High"},{"t":24.0,"s":0.19,"g":"High"},
{"t":2.6,"s":0.94,"g":"Low"},{"t":12.6,"s":0.60,"g":"Low"},{"t":14.3,"s":0.575,"g":"Low"},{"t":16.9,"s":0.505,"g":"Low"},{"t":17.3,"s":0.49,"g":"Low"},{"t":18.0,"s":0.48,"g":"Low"},{"t":18.3,"s":0.48,"g":"Low"},{"t":18.8,"s":0.475,"g":"Low"},{"t":19.5,"s":0.47,"g":"Low"},{"t":20.0,"s":0.47,"g":"Low"},{"t":20.5,"s":0.47,"g":"Low"},{"t":21.3,"s":0.46,"g":"Low"},{"t":21.8,"s":0.46,"g":"Low"},{"t":22.3,"s":0.46,"g":"Low"},{"t":22.8,"s":0.46,"g":"Low"},{"t":23.3,"s":0.46,"g":"Low"},{"t":23.8,"s":0.46,"g":"Low"},{"t":24.3,"s":0.46,"g":"Low"},{"t":24.7,"s":0.46,"g":"Low"}
],
"kmB": [
{"t":0,"s":1,"g":"High","k":"est"},{"t":0.1,"s":0.95,"g":"High","k":"est"},{"t":0.15,"s":0.9,"g":"High","k":"est"},{"t":0.22,"s":0.85,"g":"High","k":"est"},{"t":0.29,"s":0.82,"g":"High","k":"est"},{"t":0.37,"s":0.77,"g":"High","k":"est"},{"t":0.44,"s":0.73,"g":"High","k":"est"},{"t":0.51,"s":0.69,"g":"High","k":"est"},{"t":0.58,"s":0.65,"g":"High","k":"est"},{"t":0.69,"s":0.62,"g":"High","k":"est"},{"t":0.80,"s":0.58,"g":"High","k":"est"},{"t":1.02,"s":0.56,"g":"High","k":"est"},{"t":1.13,"s":0.53,"g":"High","k":"est"},{"t":1.2,"s":0.51,"g":"High","k":"est"},{"t":1.43,"s":0.50,"g":"High","k":"est"},{"t":1.65,"s":0.48,"g":"High","k":"est"},{"t":1.86,"s":0.465,"g":"High","k":"est"},{"t":1.9,"s":0.43,"g":"High","k":"est"},{"t":2.34,"s":0.39,"g":"High","k":"est"},{"t":2.78,"s":0.335,"g":"High","k":"est"},{"t":3.13,"s":0.27,"g":"High","k":"est"},{"t":4.64,"s":0.27,"g":"High","k":"est"},
{"t":0,"s":1,"g":"High","k":"up"},{"t":0.26,"s":0.87,"g":"High","k":"up"},{"t":0.4,"s":0.81,"g":"High","k":"up"},{"t":0.55,"s":0.76,"g":"High","k":"up"},{"t":0.77,"s":0.72,"g":"High","k":"up"},{"t":1.2,"s":0.70,"g":"High","k":"up"},{"t":1.43,"s":0.66,"g":"High","k":"up"},{"t":1.65,"s":0.63,"g":"High","k":"up"},{"t":1.9,"s":0.575,"g":"High","k":"up"},{"t":2.34,"s":0.565,"g":"High","k":"up"},{"t":2.78,"s":0.545,"g":"High","k":"up"},{"t":3.13,"s":0.50,"g":"High","k":"up"},{"t":4.64,"s":0.50,"g":"High","k":"up"},
{"t":0,"s":1,"g":"High","k":"lo"},{"t":0.05,"s":0.94,"g":"High","k":"lo"},{"t":0.15,"s":0.82,"g":"High","k":"lo"},{"t":0.26,"s":0.72,"g":"High","k":"lo"},{"t":0.4,"s":0.60,"g":"High","k":"lo"},{"t":0.55,"s":0.535,"g":"High","k":"lo"},{"t":0.77,"s":0.475,"g":"High","k":"lo"},{"t":1.02,"s":0.455,"g":"High","k":"lo"},{"t":1.2,"s":0.42,"g":"High","k":"lo"},{"t":1.65,"s":0.40,"g":"High","k":"lo"},{"t":1.9,"s":0.35,"g":"High","k":"lo"},{"t":1.94,"s":0.30,"g":"High","k":"lo"},{"t":2.34,"s":0.295,"g":"High","k":"lo"},{"t":2.78,"s":0.21,"g":"High","k":"lo"},{"t":3.13,"s":0.143,"g":"High","k":"lo"},{"t":4.64,"s":0.143,"g":"High","k":"lo"},
{"t":0,"s":1,"g":"Low","k":"est"},{"t":0.33,"s":0.95,"g":"Low","k":"est"},{"t":0.40,"s":0.93,"g":"Low","k":"est"},{"t":0.51,"s":0.90,"g":"Low","k":"est"},{"t":0.62,"s":0.87,"g":"Low","k":"est"},{"t":0.69,"s":0.84,"g":"Low","k":"est"},{"t":0.77,"s":0.80,"g":"Low","k":"est"},{"t":0.91,"s":0.77,"g":"Low","k":"est"},{"t":1.02,"s":0.75,"g":"Low","k":"est"},{"t":1.17,"s":0.72,"g":"Low","k":"est"},{"t":1.32,"s":0.69,"g":"Low","k":"est"},{"t":1.43,"s":0.66,"g":"Low","k":"est"},{"t":1.57,"s":0.63,"g":"Low","k":"est"},{"t":1.68,"s":0.61,"g":"Low","k":"est"},{"t":1.83,"s":0.58,"g":"Low","k":"est"},{"t":2.58,"s":0.51,"g":"Low","k":"est"},{"t":2.63,"s":0.43,"g":"Low","k":"est"},{"t":4.68,"s":0.43,"g":"Low","k":"est"},
{"t":0,"s":1,"g":"Low","k":"up"},{"t":0.4,"s":1.0,"g":"Low","k":"up"},{"t":0.69,"s":0.98,"g":"Low","k":"up"},{"t":0.99,"s":0.90,"g":"Low","k":"up"},{"t":1.28,"s":0.84,"g":"Low","k":"up"},{"t":1.57,"s":0.78,"g":"Low","k":"up"},{"t":1.83,"s":0.73,"g":"Low","k":"up"},{"t":2.56,"s":0.725,"g":"Low","k":"up"},{"t":2.63,"s":0.69,"g":"Low","k":"up"},{"t":4.68,"s":0.69,"g":"Low","k":"up"},
{"t":0,"s":1,"g":"Low","k":"lo"},{"t":0.33,"s":0.94,"g":"Low","k":"lo"},{"t":0.51,"s":0.84,"g":"Low","k":"lo"},{"t":0.69,"s":0.78,"g":"Low","k":"lo"},{"t":0.91,"s":0.70,"g":"Low","k":"lo"},{"t":1.17,"s":0.64,"g":"Low","k":"lo"},{"t":1.43,"s":0.575,"g":"Low","k":"lo"},{"t":1.68,"s":0.515,"g":"Low","k":"lo"},{"t":1.83,"s":0.486,"g":"Low","k":"lo"},{"t":2.56,"s":0.476,"g":"Low","k":"lo"},{"t":2.58,"s":0.39,"g":"Low","k":"lo"},{"t":2.63,"s":0.26,"g":"Low","k":"lo"},{"t":4.68,"s":0.26,"g":"Low","k":"lo"}
],
"cenB": [
{"t":2.5,"s":0.39,"g":"High"},{"t":2.65,"s":0.39,"g":"High"},{"t":3.3,"s":0.27,"g":"High"},{"t":3.45,"s":0.27,"g":"High"},{"t":3.55,"s":0.27,"g":"High"},{"t":3.7,"s":0.27,"g":"High"},{"t":4.64,"s":0.27,"g":"High"},
{"t":1.25,"s":0.72,"g":"Low"},{"t":1.9,"s":0.58,"g":"Low"},{"t":1.97,"s":0.58,"g":"Low"},{"t":2.05,"s":0.58,"g":"Low"},{"t":2.12,"s":0.58,"g":"Low"},{"t":2.2,"s":0.58,"g":"Low"},{"t":2.27,"s":0.58,"g":"Low"},{"t":2.35,"s":0.58,"g":"Low"},{"t":2.42,"s":0.58,"g":"Low"},{"t":2.5,"s":0.58,"g":"Low"},{"t":4.15,"s":0.43,"g":"Low"},{"t":4.6,"s":0.43,"g":"Low"},{"t":4.68,"s":0.43,"g":"Low"}
],
"riskA": [
{"t":0,"n":149,"g":"High"},{"t":5,"n":95,"g":"High"},{"t":10,"n":54,"g":"High"},{"t":15,"n":35,"g":"High"},{"t":20,"n":21,"g":"High"},{"t":25,"n":0,"g":"High"},
{"t":0,"n":149,"g":"Low"},{"t":5,"n":123,"g":"Low"},{"t":10,"n":98,"g":"Low"},{"t":15,"n":80,"g":"Low"},{"t":20,"n":44,"g":"Low"},{"t":25,"n":0,"g":"Low"}
],
"riskB": [
{"t":0,"n":60,"g":"High"},{"t":1,"n":32,"g":"High"},{"t":2,"n":17,"g":"High"},{"t":3,"n":6,"g":"High"},{"t":4,"n":1,"g":"High"},{"t":5,"n":0,"g":"High"},
{"t":0,"n":61,"g":"Low"},{"t":1,"n":44,"g":"Low"},{"t":2,"n":24,"g":"Low"},{"t":3,"n":3,"g":"Low"},{"t":4,"n":3,"g":"Low"},{"t":5,"n":0,"g":"Low"}
]
},
"spacing": 24,
"resolve": {"scale": {"color": "independent", "fill": "independent"}, "legend": {"color": "independent", "fill": "independent"}},
"vconcat": [
{
"title": {"text": "Imvigor210 Cohort", "color": "#E8442B", "fontSize": 18, "fontWeight": "bold", "anchor": "middle", "dx": 41, "offset": 6},
"spacing": 63,
"resolve": {"scale": {"color": "independent", "fill": "independent"}, "legend": {"color": "independent", "fill": "independent"}},
"hconcat": [
{
"spacing": 6,
"resolve": {"scale": {"color": "independent"}, "legend": {"color": "independent"}},
"vconcat": [
{
"width": 245, "height": 16,
"data": {"name": "kmA"},
"title": {"text": "A", "anchor": "start", "frame": "bounds", "fontSize": 21, "font": "Open Sans", "fontWeight": "bold", "offset": -16, "dx": -16},
"mark": {"type": "point", "opacity": 0},
"encoding": {"color": {"field": "g", "type": "nominal", "scale": {"domain": ["High", "Low"], "range": ["#E8472F", "#1EA3D6"]}, "legend": {"orient": "none", "legendX": 48, "legendY": -3, "direction": "horizontal", "title": null, "symbolType": "stroke", "symbolStrokeWidth": 2, "symbolOpacity": 1, "symbolSize": 120, "labelFontSize": 8.5, "labelColor": "#222", "columnPadding": 5, "labelExpr": "datum.value == 'High' ? 'High RAS( n=149)' : 'Low RAS( n=149)'"}}}
},
{
"width": 245, "height": 186,
"view": {"stroke": "#8C8C8C"},
"data": {"name": "kmA"},
"layer": [
{"transform": [{"filter": "datum.k != 'est'"}], "mark": {"type": "line", "interpolate": "step-after", "strokeDash": [3, 2], "strokeWidth": 0.9},
"encoding": {"x": {"field": "t", "type": "quantitative", "scale": {"domain": [-1.2, 25.7], "nice": false, "zero": false}, "axis": {"values": [0,5,10,15,20,25], "title": "Time (Years)", "labelFontSize": 6, "titleFontSize": 7.5, "tickSize": 2, "grid": false, "labelColor": "#333", "titlePadding": 2, "labelPadding": 1}},
"y": {"field": "s", "type": "quantitative", "scale": {"domain": [-0.05, 1.05], "nice": false, "zero": false}, "axis": {"values": [0,0.25,0.5,0.75,1], "format": ".2f", "title": "Overall survival", "labelFontSize": 6, "titleFontSize": 6.5, "tickSize": 2, "grid": false, "labelColor": "#333", "titlePadding": 3, "labelPadding": 1}},
"color": {"field": "g", "type": "nominal", "scale": {"domain": ["High", "Low"], "range": ["#E8472F", "#1EA3D6"]}, "legend": null},
"detail": {"field": "k"}}},
{"transform": [{"filter": "datum.k == 'est'"}], "mark": {"type": "line", "interpolate": "step-after", "strokeWidth": 2},
"encoding": {"x": {"field": "t", "type": "quantitative"}, "y": {"field": "s", "type": "quantitative"},
"color": {"field": "g", "type": "nominal", "scale": {"domain": ["High", "Low"], "range": ["#E8472F", "#1EA3D6"]}, "legend": null}}},
{"data": {"name": "cenA"}, "mark": {"type": "point", "shape": "M-1,0L1,0M0,-1L0,1", "size": 18, "strokeWidth": 0.8, "filled": false, "opacity": 1},
"encoding": {"x": {"field": "t", "type": "quantitative"}, "y": {"field": "s", "type": "quantitative"},
"color": {"field": "g", "type": "nominal", "scale": {"domain": ["High", "Low"], "range": ["#E8472F", "#1EA3D6"]}, "legend": null}}},
{"data": {"values": [{}]}, "mark": {"type": "text", "align": "left", "baseline": "middle", "fontSize": 8.5, "lineHeight": 12, "color": "#111"},
"encoding": {"x": {"datum": 0.44, "type": "quantitative"}, "y": {"datum": 0.266, "type": "quantitative"}, "text": {"value": ["p < 0.001", "Hazard Ratio = 2.12", "95% CI: 1.59 − 2.84"]}}}
]
},
{
"width": 245, "height": 34,
"data": {"name": "riskA"},
"title": {"text": "Number at risk", "anchor": "start", "frame": "group", "fontSize": 10.5, "fontWeight": "normal", "offset": 4},
"mark": {"type": "text", "fontSize": 9},
"encoding": {
"x": {"field": "t", "type": "quantitative", "scale": {"domain": [-1.2, 25.7], "nice": false, "zero": false}, "axis": {"values": [0,5,10,15,20,25], "title": "Time (Years)", "grid": false, "domain": true, "domainColor": "#000", "tickColor": "#000", "tickSize": 3, "labelFontSize": 7, "labelColor": "#222", "titleFontSize": 10, "titlePadding": 1, "labelPadding": 1}},
"y": {"field": "g", "type": "nominal", "sort": ["High", "Low"], "axis": {"title": null, "domain": true, "domainColor": "#000", "ticks": false, "labelExpr": "'▬'", "labelFont": "DejaVu Sans", "labelFontSize": 15, "labelColor": {"condition": {"test": "datum.value == 'High'", "value": "#E8472F"}, "value": "#1EA3D6"}, "labelPadding": 5, "grid": false}},
"text": {"field": "n", "type": "quantitative"},
"color": {"field": "g", "type": "nominal", "scale": {"domain": ["High", "Low"], "range": ["#EC6A52", "#3DB0DC"]}, "legend": null}
}
}
]
},
{
"spacing": 32,
"resolve": {"scale": {"color": "independent", "fill": "independent"}, "legend": {"color": "independent", "fill": "independent"}},
"hconcat": [
{
"width": 265, "height": 269,
"view": {"stroke": "#7F7F7F"},
"title": {"text": "C", "anchor": "start", "frame": "bounds", "fontSize": 21, "font": "Open Sans", "fontWeight": "bold", "offset": -14, "dx": -10},
"layer": [
{"data": {"name": "cPts"}, "mark": {"type": "circle", "size": 40, "opacity": 1},
"encoding": {
"x": {"field": "RAS", "type": "quantitative", "title": "RAS", "scale": {"domain": [-1.205, 0.86], "nice": false, "zero": false}, "axis": {"values": [-1, -0.75, -0.5, -0.25, 0, 0.25, 0.5, 0.75], "labelExpr": "abs(datum.value*2 - round(datum.value*2)) < 0.01 ? format(datum.value, '.1f') : ''", "tickSize": {"condition": {"test": "abs(datum.value*2 - round(datum.value*2)) < 0.01", "value": 4}, "value": 0}, "gridWidth": {"condition": {"test": "abs(datum.value*2 - round(datum.value*2)) < 0.01", "value": 1}, "value": 0.5}, "labelFontSize": 12, "titleFontSize": 12, "labelPadding": 2, "titlePadding": 4}},
"y": {"field": "Neo", "type": "quantitative", "title": "Neoantigens", "scale": {"domain": [-0.95, 12.3], "nice": false, "zero": false}, "axis": {"values": [0, 1.5, 3, 4.5, 6, 7.5, 9, 10.5, 12], "labelExpr": "datum.value % 3 == 0 ? datum.label : ''", "tickSize": {"condition": {"test": "datum.value % 3 == 0", "value": 4}, "value": 0}, "gridWidth": {"condition": {"test": "datum.value % 3 == 0", "value": 1}, "value": 0.5}, "labelFontSize": 12, "titleFontSize": 12, "labelPadding": 2, "titlePadding": 6}},
"color": {"field": "grp", "type": "nominal", "scale": {"domain": ["High", "Low"], "range": ["#E94B33", "#1A9ED6"]}, "legend": null}}},
{"data": {"name": "cFit"}, "mark": {"type": "area", "color": "#999999", "opacity": 0.6},
"encoding": {"x": {"field": "RAS", "type": "quantitative", "title": "RAS"}, "y": {"field": "lo", "type": "quantitative", "title": "Neoantigens"}, "y2": {"field": "hi"}}},
{"data": {"name": "cFit"}, "mark": {"type": "line", "color": "#FF0000", "strokeWidth": 2},
"encoding": {"x": {"field": "RAS", "type": "quantitative", "title": "RAS"}, "y": {"field": "fit", "type": "quantitative", "title": "Neoantigens"}}},
{"data": {"values": [{}]}, "mark": {"type": "text", "align": "left", "baseline": "middle", "fontSize": 12, "color": "#1A1A1A"},
"encoding": {"x": {"datum": -1.11, "type": "quantitative", "title": "RAS"}, "y": {"datum": 11.75, "type": "quantitative", "title": "Neoantigens"}, "text": {"value": "R = −0.21, p = 0.0023"}}}
]
},
{
"data": {"name": "cPts"},
"title": {"text": "***", "fontSize": 22, "anchor": "middle", "offset": -26},
"facet": {"column": {"field": "grp", "type": "nominal", "sort": ["Low", "High"], "header": null}},
"spacing": 0,
"spec": {
"width": 19, "height": 269,
"layer": [
{"transform": [{"density": "Neo", "groupby": ["grp"]}],
"mark": {"type": "area", "orient": "horizontal", "stroke": "#111", "strokeWidth": 0.8},
"encoding": {
"y": {"field": "value", "type": "quantitative", "scale": {"domain": [-0.95, 12.3], "nice": false, "zero": false}, "axis": null},
"x": {"field": "density", "type": "quantitative", "stack": "center", "impute": null, "axis": null, "scale": {"nice": false}},
"fill": {"field": "grp", "type": "nominal", "scale": {"domain": ["High", "Low"], "range": ["#F59F8B", "#86CFE8"]}, "legend": null}}},
{"mark": {"type": "boxplot", "extent": "min-max", "size": 15, "ticks": false, "median": {"color": "#222", "strokeWidth": 2}, "box": {"stroke": "#111", "strokeWidth": 1}, "rule": {"stroke": "#111", "strokeWidth": 1.2}},
"encoding": {
"y": {"field": "Neo", "type": "quantitative", "scale": {"domain": [-0.95, 12.3], "nice": false, "zero": false}, "axis": null},
"color": {"field": "grp", "type": "nominal", "scale": {"domain": ["High", "Low"], "range": ["#EE6548", "#2FADD9"]}, "legend": null}}}
]
}
}
]
},
{
"spacing": 28,
"resolve": {"scale": {"color": "independent", "fill": "independent"}, "legend": {"color": "independent", "fill": "independent"}},
"hconcat": [
{
"width": 265, "height": 269,
"view": {"stroke": "#7F7F7F"},
"title": {"text": "E", "anchor": "start", "frame": "bounds", "fontSize": 21, "font": "Open Sans", "fontWeight": "bold", "offset": -14, "dx": -10},
"layer": [
{"data": {"name": "ePts"}, "mark": {"type": "circle", "size": 40, "opacity": 1},
"encoding": {
"x": {"field": "RAS", "type": "quantitative", "title": "RAS", "scale": {"domain": [-1.218, 0.86], "nice": false, "zero": false}, "axis": {"values": [-1, -0.75, -0.5, -0.25, 0, 0.25, 0.5, 0.75], "labelExpr": "abs(datum.value*2 - round(datum.value*2)) < 0.01 ? format(datum.value, '.1f') : ''", "tickSize": {"condition": {"test": "abs(datum.value*2 - round(datum.value*2)) < 0.01", "value": 4}, "value": 0}, "gridWidth": {"condition": {"test": "abs(datum.value*2 - round(datum.value*2)) < 0.01", "value": 1}, "value": 0.5}, "labelFontSize": 12, "titleFontSize": 12, "labelPadding": 2, "titlePadding": 4}},
"y": {"field": "TMB", "type": "quantitative", "title": "TMB", "scale": {"domain": [-3.05, 65.3], "nice": false, "zero": false}, "axis": {"values": [0, 10, 20, 30, 40, 50, 60], "labelExpr": "datum.value % 20 == 0 ? datum.label : ''", "tickSize": {"condition": {"test": "datum.value % 20 == 0", "value": 4}, "value": 0}, "gridWidth": {"condition": {"test": "datum.value % 20 == 0", "value": 1}, "value": 0.5}, "labelFontSize": 12, "titleFontSize": 12, "labelPadding": 2, "titlePadding": 2}},
"color": {"field": "grp", "type": "nominal", "scale": {"domain": ["High", "Low"], "range": ["#E94B33", "#1A9ED6"]}, "legend": null}}},
{"data": {"name": "eFit"}, "mark": {"type": "area", "color": "#999999", "opacity": 0.6},
"encoding": {"x": {"field": "RAS", "type": "quantitative", "title": "RAS"}, "y": {"field": "lo", "type": "quantitative", "title": "TMB"}, "y2": {"field": "hi"}}},
{"data": {"name": "eFit"}, "mark": {"type": "line", "color": "#FF0000", "strokeWidth": 2},
"encoding": {"x": {"field": "RAS", "type": "quantitative", "title": "RAS"}, "y": {"field": "fit", "type": "quantitative", "title": "TMB"}}},
{"data": {"values": [{}]}, "mark": {"type": "text", "align": "left", "baseline": "middle", "fontSize": 12, "color": "#1A1A1A"},
"encoding": {"x": {"datum": -1.11, "type": "quantitative", "title": "RAS"}, "y": {"datum": 62.3, "type": "quantitative", "title": "TMB"}, "text": {"value": "R = −0.17, p = 0.009"}}}
]
},
{
"data": {"name": "ePts"},
"title": {"text": "**", "fontSize": 22, "anchor": "middle", "offset": -27},
"facet": {"column": {"field": "grp", "type": "nominal", "sort": ["Low", "High"], "header": null}},
"spacing": 0,
"spec": {
"width": 19, "height": 269,
"layer": [
{"transform": [{"density": "TMB", "groupby": ["grp"]}],
"mark": {"type": "area", "orient": "horizontal", "stroke": "#111", "strokeWidth": 0.8},
"encoding": {
"y": {"field": "value", "type": "quantitative", "scale": {"domain": [-3.05, 65.3], "nice": false, "zero": false}, "axis": null},
"x": {"field": "density", "type": "quantitative", "stack": "center", "impute": null, "axis": null, "scale": {"nice": false}},
"fill": {"field": "grp", "type": "nominal", "scale": {"domain": ["High", "Low"], "range": ["#F59F8B", "#86CFE8"]}, "legend": null}}},
{"mark": {"type": "boxplot", "extent": "min-max", "size": 15, "ticks": false, "median": {"color": "#222", "strokeWidth": 2}, "box": {"stroke": "#111", "strokeWidth": 1}, "rule": {"stroke": "#111", "strokeWidth": 1.2}},
"encoding": {
"y": {"field": "TMB", "type": "quantitative", "scale": {"domain": [-3.05, 65.3], "nice": false, "zero": false}, "axis": null},
"color": {"field": "grp", "type": "nominal", "scale": {"domain": ["High", "Low"], "range": ["#EE6548", "#2FADD9"]}, "legend": null}}}
]
}
}
]
}
]
},
{
"title": {"text": "Nature-SKCM Cohort", "color": "#4DB5DC", "fontSize": 18, "fontWeight": "bold", "anchor": "middle", "dx": 62, "offset": 6},
"spacing": 63,
"resolve": {"scale": {"color": "independent", "fill": "independent"}, "legend": {"color": "independent", "fill": "independent"}},
"hconcat": [
{
"spacing": 6,
"resolve": {"scale": {"color": "independent"}, "legend": {"color": "independent"}},
"vconcat": [
{
"width": 245, "height": 16,
"data": {"name": "kmB"},
"title": {"text": "B", "anchor": "start", "frame": "bounds", "fontSize": 21, "font": "Open Sans", "fontWeight": "bold", "offset": -16, "dx": -16},
"mark": {"type": "point", "opacity": 0},
"encoding": {"color": {"field": "g", "type": "nominal", "scale": {"domain": ["High", "Low"], "range": ["#E8472F", "#1EA3D6"]}, "legend": {"orient": "none", "legendX": 53, "legendY": -3, "direction": "horizontal", "title": null, "symbolType": "stroke", "symbolStrokeWidth": 2, "symbolOpacity": 1, "symbolSize": 120, "labelFontSize": 8.5, "labelColor": "#222", "columnPadding": 5, "labelExpr": "datum.value == 'High' ? 'High RAS( n=60)' : 'Low RAS( n=61)'"}}}
},
{
"width": 245, "height": 186,
"view": {"stroke": "#8C8C8C"},
"data": {"name": "kmB"},
"layer": [
{"transform": [{"filter": "datum.k != 'est'"}], "mark": {"type": "line", "interpolate": "step-after", "strokeDash": [3, 2], "strokeWidth": 0.9},
"encoding": {"x": {"field": "t", "type": "quantitative", "scale": {"domain": [-0.24, 5.14], "nice": false, "zero": false}, "axis": {"values": [0,1,2,3,4,5], "title": "Time (Years)", "labelFontSize": 6, "titleFontSize": 7.5, "tickSize": 2, "grid": false, "labelColor": "#333", "titlePadding": 2, "labelPadding": 1}},
"y": {"field": "s", "type": "quantitative", "scale": {"domain": [-0.05, 1.05], "nice": false, "zero": false}, "axis": {"values": [0,0.25,0.5,0.75,1], "format": ".2f", "title": "Overall survival", "labelFontSize": 6, "titleFontSize": 6.5, "tickSize": 2, "grid": false, "labelColor": "#333", "titlePadding": 3, "labelPadding": 1}},
"color": {"field": "g", "type": "nominal", "scale": {"domain": ["High", "Low"], "range": ["#E8472F", "#1EA3D6"]}, "legend": null},
"detail": {"field": "k"}}},
{"transform": [{"filter": "datum.k == 'est'"}], "mark": {"type": "line", "interpolate": "step-after", "strokeWidth": 2},
"encoding": {"x": {"field": "t", "type": "quantitative"}, "y": {"field": "s", "type": "quantitative"},
"color": {"field": "g", "type": "nominal", "scale": {"domain": ["High", "Low"], "range": ["#E8472F", "#1EA3D6"]}, "legend": null}}},
{"data": {"name": "cenB"}, "mark": {"type": "point", "shape": "M-1,0L1,0M0,-1L0,1", "size": 18, "strokeWidth": 0.8, "filled": false, "opacity": 1},
"encoding": {"x": {"field": "t", "type": "quantitative"}, "y": {"field": "s", "type": "quantitative"},
"color": {"field": "g", "type": "nominal", "scale": {"domain": ["High", "Low"], "range": ["#E8472F", "#1EA3D6"]}, "legend": null}}},
{"data": {"values": [{}]}, "mark": {"type": "text", "align": "left", "baseline": "middle", "fontSize": 8.5, "lineHeight": 12, "color": "#111"},
"encoding": {"x": {"datum": 0.09, "type": "quantitative"}, "y": {"datum": 0.27, "type": "quantitative"}, "text": {"value": ["p = 0.03", "Hazard Ratio = 1.73", "95% CI: 1.05 − 2.85"]}}}
]
},
{
"width": 245, "height": 34,
"data": {"name": "riskB"},
"title": {"text": "Number at risk", "anchor": "start", "frame": "group", "fontSize": 10.5, "fontWeight": "normal", "offset": 4},
"mark": {"type": "text", "fontSize": 9},
"encoding": {
"x": {"field": "t", "type": "quantitative", "scale": {"domain": [-0.24, 5.14], "nice": false, "zero": false}, "axis": {"values": [0,1,2,3,4,5], "title": "Time (Years)", "grid": false, "domain": true, "domainColor": "#000", "tickColor": "#000", "tickSize": 3, "labelFontSize": 7, "labelColor": "#222", "titleFontSize": 10, "titlePadding": 1, "labelPadding": 1}},
"y": {"field": "g", "type": "nominal", "sort": ["High", "Low"], "axis": {"title": null, "domain": true, "domainColor": "#000", "ticks": false, "labelExpr": "'▬'", "labelFont": "DejaVu Sans", "labelFontSize": 15, "labelColor": {"condition": {"test": "datum.value == 'High'", "value": "#E8472F"}, "value": "#1EA3D6"}, "labelPadding": 5, "grid": false}},
"text": {"field": "n", "type": "quantitative"},
"color": {"field": "g", "type": "nominal", "scale": {"domain": ["High", "Low"], "range": ["#EC6A52", "#3DB0DC"]}, "legend": null}
}
}
]
},
{
"spacing": 32,
"resolve": {"scale": {"color": "independent", "fill": "independent"}, "legend": {"color": "independent", "fill": "independent"}},
"hconcat": [
{
"width": 266, "height": 270,
"view": {"stroke": "#7F7F7F"},
"title": {"text": "D", "anchor": "start", "frame": "bounds", "fontSize": 21, "font": "Open Sans", "fontWeight": "bold", "offset": -14, "dx": -10},
"layer": [
{"data": {"name": "dPts"}, "mark": {"type": "circle", "size": 40, "opacity": 1},
"encoding": {
"x": {"field": "RAS", "type": "quantitative", "title": "RAS", "scale": {"domain": [-0.14, 4.04], "nice": false, "zero": false}, "axis": {"values": [0, 0.5, 1, 1.5, 2, 2.5, 3, 3.5, 4], "labelExpr": "datum.value % 1 == 0 ? format(datum.value, 'd') : ''", "tickSize": {"condition": {"test": "datum.value % 1 == 0", "value": 4}, "value": 0}, "gridWidth": {"condition": {"test": "datum.value % 1 == 0", "value": 1}, "value": 0.5}, "labelFontSize": 12, "titleFontSize": 12, "labelPadding": 2, "titlePadding": 4}},
"y": {"field": "Neo", "type": "quantitative", "title": "Neoantigens", "scale": {"domain": [3.92, 14.75], "nice": false, "zero": false}, "axis": {"values": [4, 5, 6, 7, 8, 9, 10, 11, 12, 13, 14], "labelExpr": "datum.value % 2 == 0 ? format(datum.value, 'd') : ''", "tickSize": {"condition": {"test": "datum.value % 2 == 0", "value": 4}, "value": 0}, "gridWidth": {"condition": {"test": "datum.value % 2 == 0", "value": 1}, "value": 0.5}, "labelFontSize": 12, "titleFontSize": 12, "labelPadding": 2, "titlePadding": 6}},
"color": {"field": "grp", "type": "nominal", "scale": {"domain": ["High", "Low"], "range": ["#E94B33", "#1A9ED6"]}, "legend": null}}},
{"data": {"name": "dFit"}, "mark": {"type": "area", "color": "#999999", "opacity": 0.6},
"encoding": {"x": {"field": "RAS", "type": "quantitative", "title": "RAS"}, "y": {"field": "lo", "type": "quantitative", "title": "Neoantigens"}, "y2": {"field": "hi"}}},
{"data": {"name": "dFit"}, "mark": {"type": "line", "color": "#FF0000", "strokeWidth": 2},
"encoding": {"x": {"field": "RAS", "type": "quantitative", "title": "RAS"}, "y": {"field": "fit", "type": "quantitative", "title": "Neoantigens"}}},
{"data": {"values": [{}]}, "mark": {"type": "text", "align": "left", "baseline": "middle", "fontSize": 12, "color": "#1A1A1A"},
"encoding": {"x": {"datum": 0.07, "type": "quantitative", "title": "RAS"}, "y": {"datum": 14.24, "type": "quantitative", "title": "Neoantigens"}, "text": {"value": "R = 0.069, p = 0.45"}}}
]
},
{
"data": {"name": "dPts"},
"title": {"text": "ns", "fontSize": 20, "anchor": "middle", "offset": -16},
"facet": {"column": {"field": "grp", "type": "nominal", "sort": ["Low", "High"], "header": null}},
"spacing": 0,
"spec": {
"width": 19, "height": 270,
"layer": [
{"transform": [{"density": "Neo", "groupby": ["grp"]}],
"mark": {"type": "area", "orient": "horizontal", "stroke": "#111", "strokeWidth": 0.8},
"encoding": {
"y": {"field": "value", "type": "quantitative", "scale": {"domain": [3.92, 14.75], "nice": false, "zero": false}, "axis": null},
"x": {"field": "density", "type": "quantitative", "stack": "center", "impute": null, "axis": null, "scale": {"nice": false}},
"fill": {"field": "grp", "type": "nominal", "scale": {"domain": ["High", "Low"], "range": ["#F59F8B", "#86CFE8"]}, "legend": null}}},
{"mark": {"type": "boxplot", "extent": "min-max", "size": 15, "ticks": false, "median": {"color": "#222", "strokeWidth": 2}, "box": {"stroke": "#111", "strokeWidth": 1}, "rule": {"stroke": "#111", "strokeWidth": 1.2}},
"encoding": {
"y": {"field": "Neo", "type": "quantitative", "scale": {"domain": [3.92, 14.75], "nice": false, "zero": false}, "axis": null},
"color": {"field": "grp", "type": "nominal", "scale": {"domain": ["High", "Low"], "range": ["#EE6548", "#2FADD9"]}, "legend": null}}}
]
}
}
]
},
{
"spacing": 28,
"resolve": {"scale": {"color": "independent", "fill": "independent"}, "legend": {"color": "independent", "fill": "independent"}},
"hconcat": [
{
"width": 265, "height": 270,
"view": {"stroke": "#7F7F7F"},
"title": {"text": "F", "anchor": "start", "frame": "bounds", "fontSize": 21, "font": "Open Sans", "fontWeight": "bold", "offset": -14, "dx": -10},
"layer": [
{"data": {"name": "ePts"}, "mark": {"type": "circle", "size": 40, "opacity": 1},
"encoding": {
"x": {"field": "RAS", "type": "quantitative", "title": "RAS", "scale": {"domain": [-1.218, 0.86], "nice": false, "zero": false}, "axis": {"values": [-1, -0.75, -0.5, -0.25, 0, 0.25, 0.5, 0.75], "labelExpr": "abs(datum.value*2 - round(datum.value*2)) < 0.01 ? format(datum.value, '.1f') : ''", "tickSize": {"condition": {"test": "abs(datum.value*2 - round(datum.value*2)) < 0.01", "value": 4}, "value": 0}, "gridWidth": {"condition": {"test": "abs(datum.value*2 - round(datum.value*2)) < 0.01", "value": 1}, "value": 0.5}, "labelFontSize": 12, "titleFontSize": 12, "labelPadding": 2, "titlePadding": 4}},
"y": {"field": "TMB", "type": "quantitative", "title": "TMB", "scale": {"domain": [-3.05, 65.3], "nice": false, "zero": false}, "axis": {"values": [0, 10, 20, 30, 40, 50, 60], "labelExpr": "datum.value % 20 == 0 ? datum.label : ''", "tickSize": {"condition": {"test": "datum.value % 20 == 0", "value": 4}, "value": 0}, "gridWidth": {"condition": {"test": "datum.value % 20 == 0", "value": 1}, "value": 0.5}, "labelFontSize": 12, "titleFontSize": 12, "labelPadding": 2, "titlePadding": 2}},
"color": {"field": "grp", "type": "nominal", "scale": {"domain": ["High", "Low"], "range": ["#E94B33", "#1A9ED6"]}, "legend": null}}},
{"data": {"name": "eFit"}, "mark": {"type": "area", "color": "#999999", "opacity": 0.6},
"encoding": {"x": {"field": "RAS", "type": "quantitative", "title": "RAS"}, "y": {"field": "lo", "type": "quantitative", "title": "TMB"}, "y2": {"field": "hi"}}},
{"data": {"name": "eFit"}, "mark": {"type": "line", "color": "#FF0000", "strokeWidth": 2},
"encoding": {"x": {"field": "RAS", "type": "quantitative", "title": "RAS"}, "y": {"field": "fit", "type": "quantitative", "title": "TMB"}}},
{"data": {"values": [{}]}, "mark": {"type": "text", "align": "left", "baseline": "middle", "fontSize": 12, "color": "#1A1A1A"},
"encoding": {"x": {"datum": -1.11, "type": "quantitative", "title": "RAS"}, "y": {"datum": 62.3, "type": "quantitative", "title": "TMB"}, "text": {"value": "R = −0.17, p = 0.009"}}}
]
},
{
"data": {"name": "ePts"},
"title": {"text": "**", "fontSize": 22, "anchor": "middle", "offset": -29},
"facet": {"column": {"field": "grp", "type": "nominal", "sort": ["Low", "High"], "header": null}},
"spacing": 0,
"spec": {
"width": 19, "height": 270,
"layer": [
{"transform": [{"density": "TMB", "groupby": ["grp"]}],
"mark": {"type": "area", "orient": "horizontal", "stroke": "#111", "strokeWidth": 0.8},
"encoding": {
"y": {"field": "value", "type": "quantitative", "scale": {"domain": [-3.05, 65.3], "nice": false, "zero": false}, "axis": null},
"x": {"field": "density", "type": "quantitative", "stack": "center", "impute": null, "axis": null, "scale": {"nice": false}},
"fill": {"field": "grp", "type": "nominal", "scale": {"domain": ["High", "Low"], "range": ["#F59F8B", "#86CFE8"]}, "legend": null}}},
{"mark": {"type": "boxplot", "extent": "min-max", "size": 15, "ticks": false, "median": {"color": "#222", "strokeWidth": 2}, "box": {"stroke": "#111", "strokeWidth": 1}, "rule": {"stroke": "#111", "strokeWidth": 1.2}},
"encoding": {
"y": {"field": "TMB", "type": "quantitative", "scale": {"domain": [-3.05, 65.3], "nice": false, "zero": false}, "axis": null},
"color": {"field": "grp", "type": "nominal", "scale": {"domain": ["High", "Low"], "range": ["#EE6548", "#2FADD9"]}, "legend": null}}}
]
}
}
]
}
]
}
]
}
